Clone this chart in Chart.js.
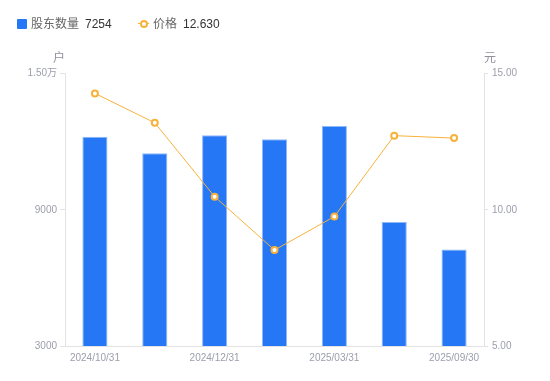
<!DOCTYPE html>
<html>
<head>
<meta charset="utf-8">
<script src="https://cdn.jsdelivr.net/npm/chart.js@4/dist/chart.umd.min.js"></script>
<style>
  html, body { margin: 0; padding: 0; background: #fff; }
  #wrap { position: relative; width: 550px; height: 381px; }
  #legend { position: absolute; left: 0; top: 0; width: 550px; height: 40px;
    font-family: "Liberation Sans", "Noto Sans CJK SC", sans-serif; font-size: 12px; }
  .item { position: absolute; top: 16px; height: 16px; line-height: 16px; white-space: nowrap; }
  .lab { color: #666; }
  .val { color: #333; margin-left: 6px; }
  .sq { position: absolute; left: 17px; top: 19px; width: 10px; height: 10px; background: #2577F5; border-radius: 1px; }
  .ln { position: absolute; left: 138px; top: 23px; width: 11px; height: 1px; background: #F7B23B; }
  .cir { position: absolute; left: 140px; top: 20px; width: 4px; height: 4px; border: 2px solid #F7B23B; border-radius: 50%; background: #fff; }
</style>
</head>
<body>
<div id="wrap">
  <canvas id="c" width="550" height="381"></canvas>
  <div id="legend">
    <div class="sq"></div>
    <div class="item" style="left:31px"><span class="lab" id="l1"></span><span class="val" id="v1"></span></div>
    <div class="ln"></div><div class="cir"></div>
    <div class="item" style="left:153px"><span class="lab" id="l2"></span><span class="val" id="v2"></span></div>
  </div>
</div>
<script>
const categories = ["2024/10/31", "2024/11/30", "2024/12/31", "2025/02/28", "2025/03/31", "2025/06/30", "2025/09/30"];
const holders = [12217, 11486, 12278, 12102, 12688, 8461, 7254];
const prices = [14.27, 13.19, 10.48, 8.52, 9.75, 12.72, 12.63];
const holderTicks = [3000, 9000, 15000];
const priceTicks = [5, 10, 15];
const seriesNames = ["股东数量", "价格"];
const axisUnits = ["户", "元"];

document.getElementById('l1').textContent = seriesNames[0];
document.getElementById('v1').textContent = String(holders[holders.length - 1]);
document.getElementById('l2').textContent = seriesNames[1];
document.getElementById('v2').textContent = prices[prices.length - 1].toFixed(3);

const FONT = '"Liberation Sans", "Noto Sans CJK SC", sans-serif';
const tickColor = '#9c9eab';
const axisColor = '#e3e3e6';

const unitPlugin = {
  id: 'units',
  afterDraw(chart) {
    const ctx = chart.ctx;
    const a = chart.chartArea;
    ctx.save();
    ctx.font = '12px ' + FONT;
    ctx.fillStyle = '#8f909c';
    ctx.textAlign = 'center';
    ctx.textBaseline = 'middle';
    ctx.fillText(axisUnits[0], a.left - 6, 59);
    ctx.fillText(axisUnits[1], a.right + 6, 59);
    ctx.restore();
  }
};

new Chart(document.getElementById('c'), {
  data: {
    labels: categories,
    datasets: [
      {
        type: 'line', label: seriesNames[1], data: prices, yAxisID: 'yR',
        borderColor: '#F7B23B', borderWidth: 1, pointRadius: 3, pointHoverRadius: 3,
        pointBorderWidth: 2, pointBackgroundColor: '#fff', pointBorderColor: '#F7B23B',
        tension: 0, order: 0
      },
      {
        type: 'bar', label: seriesNames[0], data: holders, yAxisID: 'yL',
        backgroundColor: '#2577F5', borderColor: '#8DB8F8', borderWidth: {top: 1, left: 1, right: 1, bottom: 0},
        borderSkipped: false, barPercentage: 0.42, categoryPercentage: 1.0, order: 1
      }
    ]
  },
  options: {
    responsive: false, animation: false,
    layout: { padding: { top: 73.5, left: 0, right: 0, bottom: 0 } },
    plugins: { legend: { display: false }, tooltip: { enabled: false } },
    scales: {
      x: {
        offset: true,
        grid: { display: false, drawTicks: false },
        border: { color: axisColor },
        ticks: {
          autoSkip: false, maxRotation: 0, padding: 6, color: tickColor,
          font: { family: FONT, size: 10 },
          callback: (v, i) => (i % 2 === 0 ? categories[i] : '')
        },
        afterFit: s => { s.height = 35; }
      },
      yL: {
        position: 'left', min: holderTicks[0], max: holderTicks[holderTicks.length - 1],
        afterBuildTicks: s => { s.ticks = holderTicks.map(v => ({ value: v })); },
        grid: { drawOnChartArea: false, drawTicks: true, tickLength: 5, color: axisColor },
        border: { color: axisColor },
        ticks: {
          color: tickColor, padding: 3, font: { family: FONT, size: 10 },
          callback: v => (v >= 10000 ? (v / 10000).toFixed(2) + '万' : String(v))
        },
        afterFit: s => { s.width = 65; }
      },
      yR: {
        position: 'right', min: priceTicks[0], max: priceTicks[priceTicks.length - 1],
        afterBuildTicks: s => { s.ticks = priceTicks.map(v => ({ value: v })); },
        grid: { drawOnChartArea: false, drawTicks: true, tickLength: 4, color: axisColor },
        border: { color: axisColor },
        ticks: {
          color: tickColor, padding: 4, font: { family: FONT, size: 10 },
          callback: v => Number(v).toFixed(2)
        },
        afterFit: s => { s.width = 66; }
      }
    }
  },
  plugins: [unitPlugin]
});
</script>
</body>
</html>
